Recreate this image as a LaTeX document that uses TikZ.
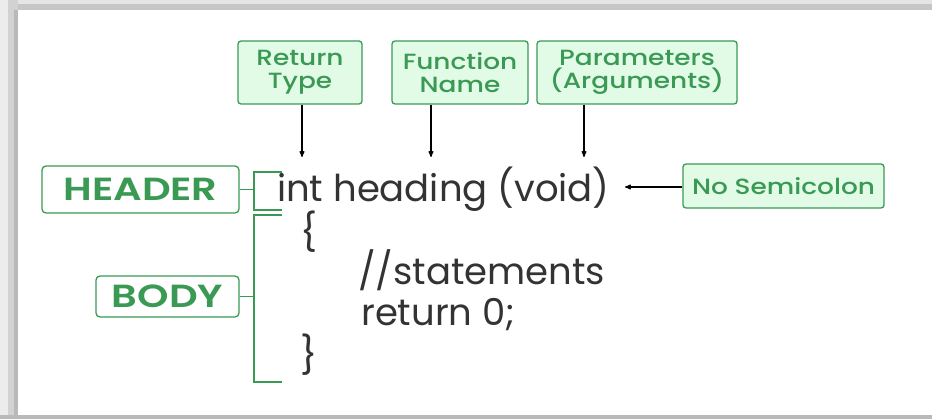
\documentclass[tikz,border=0pt]{standalone}
\usepackage{fontspec}
\setmainfont{Poppins}
\newfontfamily\semibf[FakeStretch=1.2]{Poppins Medium}
\newfontfamily\widebf[FakeStretch=1.25]{Poppins SemiBold}
\usetikzlibrary{calc}
\usetikzlibrary{arrows}
\usetikzlibrary{positioning}

\definecolor{leaf}{HTML}{3A9A54}
\definecolor{mint}{HTML}{E2FBE7}
\definecolor{ink}{HTML}{333333}

\tikzset{
 tag/.style={draw=leaf, fill=mint, rounded corners=3, line width=1.3, text=leaf, align=center, inner sep=0, font=\semibf\fontsize{22}{23}\selectfont},
 part/.style={draw=leaf, fill=white, rounded corners=4, line width=1.3, text=leaf, inner sep=0, font=\widebf\fontsize{32}{32}\selectfont},
 code/.style={text=ink, anchor=base west, inner sep=0, font=\fontsize{37}{37}\selectfont},
 arr/.style={black, line width=1.1, ->, >=stealth'},
 brace/.style={leaf, line width=1.3},
}

\begin{document}
\begin{tikzpicture}[x=1pt,y=-1pt]
% page frame
\fill[white] (0,0) rectangle (932,419);
\fill[gray!20] (0,0) rectangle (932,4);
\fill[gray!45] (0,4) rectangle (932,10);
\fill[gray!15] (0,0) rectangle (8,419);
\fill[gray!35] (8,0) rectangle (18,419);
\fill[gray!55] (14,10) rectangle (18,419);
\fill[gray!55] (0,415) rectangle (932,419);

% labels above the signature
\node[tag, minimum width=124, minimum height=63] (ret) at (300,72.5) {Return\\Type};
\node[tag, minimum width=136, minimum height=63] (fun) at (460,72.5) {Function\\Name};
\node[tag, minimum width=200, minimum height=63] (par) at (637,72.5) {Parameters\\(Arguments)};
\node[tag, minimum width=201, minimum height=44] (semi) at (783.5,186) {No Semicolon};

% the function itself
\node[code] (sig) at (277,202) {int heading (void)};
\node[code] (open) at (300,246) {\{};
\node[code] (stm) at (358,285) {//statements};
\node[code] (ret0) at (361,326) {return 0;};
\node[code] (close) at (300,369) {\}};

% parts
\node[part, minimum width=197, minimum height=47] (head) at (140.5,189.5) {HEADER};
\node[part, minimum width=143, minimum height=41] (body) at (167.5,296.5) {BODY};

\foreach \n/\x in {ret/302,fun/431,par/584} {
 \coordinate (a\n) at (\x,157);
 \draw[arr] (\n.south -| a\n) -- (a\n);
}
\coordinate (nose) at (625,187);
\draw[arr] (semi.west |- nose) -- (nose);

% brackets
\coordinate (hb) at (254,172);
\coordinate (he) at (254,210);
\coordinate (bb) at (254,215);
\coordinate (be) at (254,382);
\draw[brace] (282,172) -- (hb) -- (he) -- (282,210);
\draw[brace] (head.east) -- (head.east -| hb);
\draw[brace] (282,215) -- (bb) -- (be) -- (282,382);
\draw[brace] (body.east) -- (body.east -| bb);
\end{tikzpicture}
\end{document}
